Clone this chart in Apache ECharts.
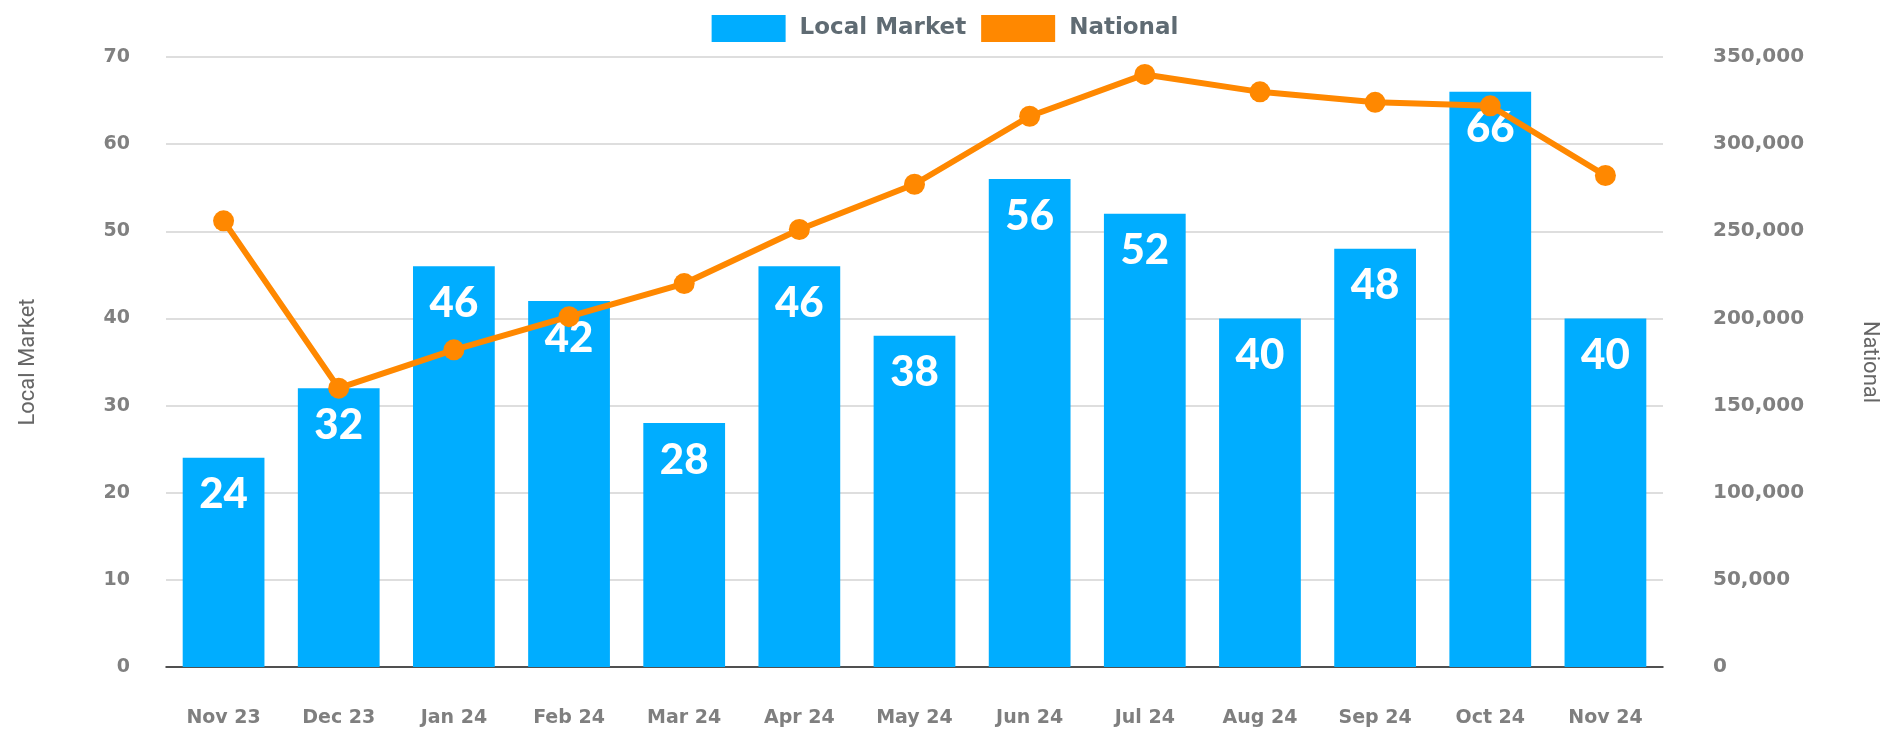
<!DOCTYPE html>
<html><head><meta charset="utf-8">
<script src="https://cdn.jsdelivr.net/npm/echarts@6/dist/echarts.min.js"></script>
<style>html,body{margin:0;padding:0;background:#fff}#c{width:1890px;height:730px}</style>
</head><body><div id="c"></div>
<script>
const categories = ['Nov 23','Dec 23','Jan 24','Feb 24','Mar 24','Apr 24','May 24','Jun 24','Jul 24','Aug 24','Sep 24','Oct 24','Nov 24'];
const localMarket = [24,32,46,42,28,46,38,56,52,40,48,66,40];
const national = [256000,160000,182000,201000,220000,251000,277000,316000,340000,330000,324000,322000,282000];
const leftTicks = {min:0,max:70,interval:10};
const rightTicks = {min:0,max:350000,interval:50000};

const chart = echarts.init(document.getElementById('c'));
const wideFont = '"DejaVu Sans", sans-serif';
const barFont = 'Lato, sans-serif';
chart.setOption({
  animation:false,
  legend:{
    top:10, left:'center', itemWidth:74, itemHeight:27, itemGap:15,
    textStyle:{color:'#5f6b73',fontSize:23,fontWeight:'bold',fontFamily:wideFont,padding:[0,0,0,9]},
    data:[{name:'Local Market',icon:'rect'},{name:'National',icon:'rect'}]
  },
  grid:{left:166,right:227,top:57,bottom:63},
  xAxis:{
    type:'category', data:categories,
    axisLine:{lineStyle:{color:'#222',width:1.5}}, axisTick:{show:false},
    axisLabel:{color:'#7f7f7f',fontSize:19,fontWeight:'bold',fontFamily:wideFont,margin:42}
  },
  yAxis:[
    {type:'value', ...leftTicks, name:'Local Market', nameLocation:'middle', nameGap:127, nameRotate:90,
     nameTextStyle:{color:'#666',fontSize:22,fontFamily:'Roboto'},
     axisLabel:{color:'#808080',fontSize:19,fontWeight:'bold',fontFamily:wideFont,margin:36},
     splitLine:{lineStyle:{color:'#d3d3d3',width:1.5}}, axisLine:{show:false}, axisTick:{show:false}},
    {type:'value', ...rightTicks, name:'National', nameLocation:'middle', nameGap:195, nameRotate:-90,
     nameTextStyle:{color:'#666',fontSize:22,fontFamily:'Roboto'},
     axisLabel:{color:'#808080',fontSize:20,fontWeight:'bold',fontFamily:wideFont,margin:50,
       formatter:v=>v.toLocaleString('en-US')},
     splitLine:{show:false}, axisLine:{show:false}, axisTick:{show:false}}
  ],
  series:[
    {name:'Local Market', type:'bar', data:localMarket, yAxisIndex:0, barCategoryGap:'29%',
     itemStyle:{color:'#00adff'},
     label:{show:true, position:'insideTop', distance:16, color:'#fff', fontSize:42, fontWeight:900, fontFamily:barFont}},
    {name:'National', type:'line', data:national, yAxisIndex:1, symbol:'circle', symbolSize:21,
     lineStyle:{color:'#ff8800',width:6}, itemStyle:{color:'#ff8800'}, z:5}
  ]
});
</script></body></html>
